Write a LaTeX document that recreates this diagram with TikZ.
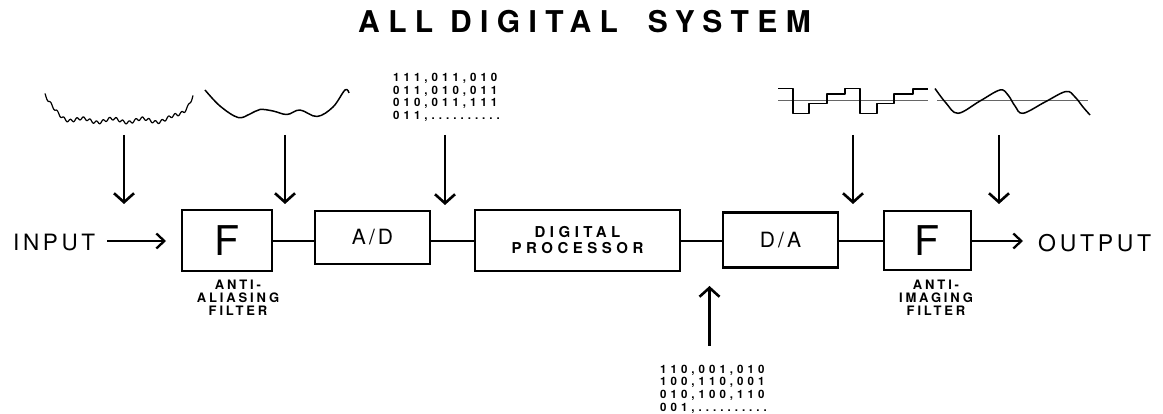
\documentclass[tikz,border=0pt]{standalone}
\usepackage{fontspec}
\setmainfont{TeX Gyre Heros}
\newfontfamily\titlef[LetterSpace=28]{TeX Gyre Heros}
\newfontfamily\ioF[LetterSpace=16]{TeX Gyre Heros}
\newfontfamily\boxF[LetterSpace=15]{TeX Gyre Heros}
\newfontfamily\dpF[LetterSpace=30]{TeX Gyre Heros}
\newfontfamily\lblF[LetterSpace=22]{TeX Gyre Heros}
\newfontfamily\binF[LetterSpace=35]{TeX Gyre Heros}
\usetikzlibrary{arrows.meta}
\begin{document}
\begin{tikzpicture}[x=1pt,y=-1pt,
  blk/.style={draw, line width=2.2pt, inner sep=0pt},
  conn/.style={line width=2.2pt},
  varr/.style={line width=2.6pt, -{Straight Barb[length=9pt,width=20pt]}},
  harr/.style={line width=2.3pt, -{Straight Barb[length=8pt,width=15pt]}},
  wave/.style={line width=1.5pt, line join=round},
  axisl/.style={line width=1pt, black!60},
  lbl/.style={align=center, inner sep=0pt, anchor=north, font=\lblF\bfseries\fontsize{13}{13}\selectfont},
  bin/.style={align=left, inner sep=0pt, anchor=north west, font=\binF\bfseries\fontsize{11.5}{12.7}\selectfont}]
\useasboundingbox (0,0) rectangle (1163,414);

% title
\node[anchor=base west, inner sep=0pt] (title) at (358,33)
  {\titlef\bfseries\fontsize{30}{30}\selectfont ALL DIGITAL\hspace*{30pt}SYSTEM};

% blocks
\node[blk, minimum width=90pt, minimum height=61pt] (F1) at (227,240.5)
  {\fontsize{41}{41}\selectfont F};
\node[blk, minimum width=115pt, minimum height=53pt] (AD) at (372.5,237.5)
  {\boxF\fontsize{21}{21}\selectfont A/D};
\node[blk, minimum width=205pt, minimum height=61pt, align=center,
  font=\dpF\bfseries\fontsize{15}{16}\selectfont] (DP) at (577.5,240.5)
  {DIGITAL\\PROCESSOR};
\node[blk, minimum width=115pt, minimum height=55pt] (DA) at (780.5,240)
  {\boxF\fontsize{21}{21}\selectfont D/A};
\node[blk, minimum width=87pt, minimum height=59pt] (F2) at (927.5,240.5)
  {\fontsize{41}{41}\selectfont F};

% input / output
\node[anchor=base west, inner xsep=12pt, inner ysep=0pt, font=\ioF\fontsize{22.5}{23}\selectfont]
  (IN) at (1,251) {INPUT};
\node[anchor=base west, inner xsep=15pt, inner ysep=0pt, font=\ioF\fontsize{23}{23}\selectfont]
  (OUT) at (1023,251.7) {OUTPUT};

\coordinate (lvl) at (0,241);
\coordinate (inTip) at (166,241);
\draw[harr] (IN.east |- lvl) -- (inTip);
\draw[conn] (F1.east |- lvl) -- (AD.west |- lvl);
\draw[conn] (AD.east |- lvl) -- (DP.west |- lvl);
\draw[conn] (DP.east |- lvl) -- (DA.west |- lvl);
\draw[conn] (DA.east |- lvl) -- (F2.west |- lvl);
\draw[harr] (F2.east |- lvl) -- (OUT.west |- lvl);

% filter labels
\node[lbl] (L1) at (238,279.5) {ANTI-\\ALIASING\\FILTER};
\node[lbl] (L2) at (936,279.5) {ANTI-\\IMAGING\\FILTER};

% binary words
\node[bin] (B1) at (393,73) {111,011,010\\011,010,011\\010,011,111\\011,..........};
\node[bin] (B2) at (660,364.5) {110,001,010\\100,110,001\\010,100,110\\001,..........};

% down arrows
\coordinate (a1s) at (124,135);  \coordinate (a1e) at (124,204);
\coordinate (a2s) at (285,135);  \coordinate (a2e) at (285,204);
\coordinate (a3s) at (445,135);  \coordinate (a3e) at (445,205);
\coordinate (a4s) at (853,135);  \coordinate (a4e) at (853,204);
\coordinate (a5s) at (999,135);  \coordinate (a5e) at (999,204);
\coordinate (a6s) at (709.5,346); \coordinate (a6e) at (709.5,286);
\draw[varr] (a1s) -- (a1e);
\draw[varr] (a2s) -- (a2e);
\draw[varr] (a3s) -- (a3e);
\draw[varr] (a4s) -- (a4e);
\draw[varr] (a5s) -- (a5e);
\draw[varr] (a6s) -- (a6e);

% noisy input waveform
\draw[wave, line width=1.2pt] plot[domain=45:193, samples=260, variable=\t]
  (\t, {120.5 - 26*(abs((\t-119)/74))^7 + 2*sin(\t*12) + 1.5*sin(\t*55)});

% filtered waveform
\draw[wave] plot[smooth, tension=0.6] coordinates {(205,90) (220,106) (238,117.5) (250,114) (260,109.5) (273,111) (287,114.5) (300,110) (317,116.5) (333,107) (345,90) (349,93)};

% staircase
\draw[axisl] (778,100.7) -- (928,100.7);
\draw[wave] (778,88.3) -- (793,88.3) -- (793,113.3) -- (809,113.3) -- (809,103.3) -- (827,103.3) -- (827,94) -- (845,94) -- (845,88.3) -- (860,88.3) -- (860,113.3) -- (877,113.3) -- (877,103.3) -- (894,103.3) -- (894,94) -- (913,94) -- (913,89) -- (928,89);

% reconstructed sine
\draw[axisl] (937,101) -- (1088,101);
\draw[wave] plot[smooth, tension=0.6] coordinates {(935,88.5) (946,103) (958,113.3) (980,101) (1000,90) (1008,95) (1015,106) (1023,113.3) (1045,102) (1066,91.5) (1075,97) (1083,107) (1090,115)};
\end{tikzpicture}
\end{document}
